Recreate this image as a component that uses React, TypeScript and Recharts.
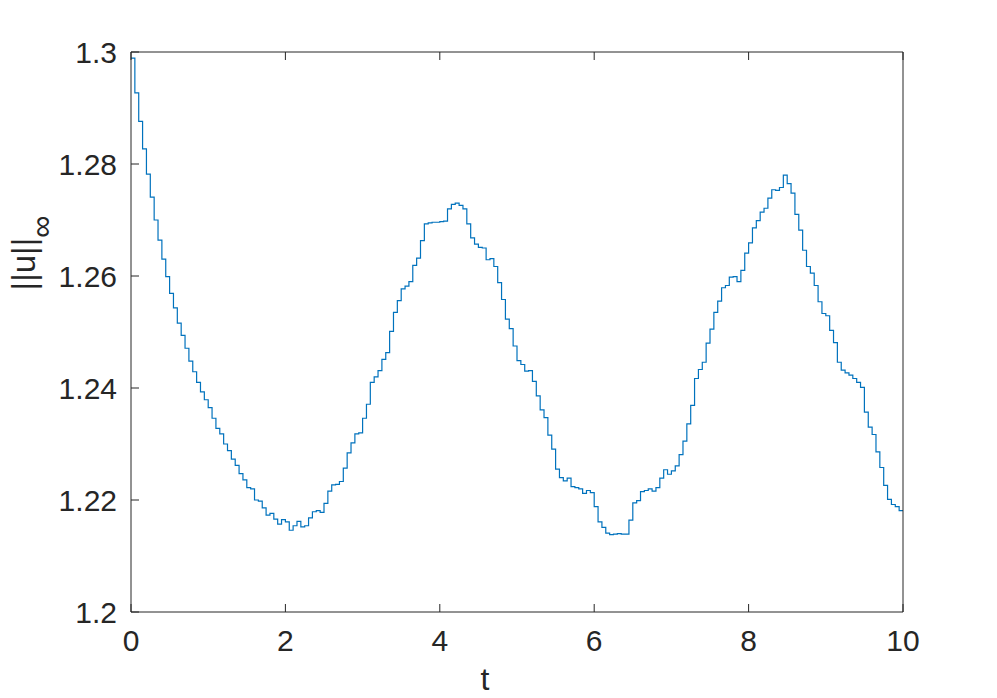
import * as React from 'react';
import { LineChart, Line, XAxis, YAxis, Label } from 'recharts';

const normValues = [
  1.2989, 1.2927, 1.2876, 1.2827, 1.2782, 1.2741, 1.27, 1.2664, 1.263, 1.2599,
  1.2569, 1.2543, 1.2516, 1.2494, 1.2471, 1.2448, 1.2429, 1.241, 1.2393, 1.2379,
  1.2365, 1.2346, 1.2328, 1.2318, 1.23, 1.2288, 1.2273, 1.2262, 1.2247, 1.2236,
  1.2222, 1.222, 1.22, 1.2198, 1.2186, 1.2173, 1.2176, 1.2166, 1.2157, 1.2165,
  1.2161, 1.2146, 1.2154, 1.2162, 1.2152, 1.2154, 1.2168, 1.2179, 1.2181, 1.2178,
  1.2194, 1.2216, 1.2227, 1.2228, 1.2233, 1.2257, 1.2284, 1.2302, 1.2318, 1.232,
  1.2346, 1.2371, 1.241, 1.242, 1.2431, 1.2451, 1.2463, 1.2501, 1.2535, 1.2556,
  1.2577, 1.2582, 1.259, 1.2619, 1.2632, 1.2663, 1.2693, 1.2695, 1.2696, 1.2696,
  1.2697, 1.2698, 1.272, 1.2728, 1.273, 1.2726, 1.272, 1.2693, 1.2668, 1.2657,
  1.2651, 1.265, 1.2629, 1.2631, 1.2617, 1.2588, 1.2558, 1.2523, 1.2506, 1.2475,
  1.2449, 1.2442, 1.243, 1.2431, 1.2412, 1.2386, 1.2361, 1.2347, 1.2316, 1.2291,
  1.2255, 1.224, 1.2234, 1.2239, 1.2224, 1.2222, 1.222, 1.2212, 1.2217, 1.2213,
  1.2188, 1.2161, 1.2151, 1.2141, 1.2138, 1.2139, 1.214, 1.2139, 1.2139, 1.2164,
  1.2195, 1.2199, 1.2215, 1.2217, 1.222, 1.2216, 1.2222, 1.2239, 1.2254, 1.2246,
  1.2252, 1.2261, 1.2281, 1.2305, 1.2336, 1.2369, 1.2417, 1.2433, 1.2446, 1.248,
  1.2505, 1.2535, 1.2555, 1.2579, 1.2583, 1.2598, 1.2599, 1.259, 1.261, 1.2641,
  1.2659, 1.2686, 1.2699, 1.2714, 1.2721, 1.2739, 1.2754, 1.2753, 1.2758, 1.278,
  1.2765, 1.2748, 1.271, 1.2682, 1.2646, 1.2617, 1.2605, 1.2583, 1.2554, 1.2533,
  1.2529, 1.2503, 1.2481, 1.2446, 1.2432, 1.2427, 1.2423, 1.2417, 1.241, 1.2401,
  1.2357, 1.233, 1.2317, 1.2286, 1.2258, 1.2226, 1.2201, 1.2192, 1.2188, 1.2181,
];
const stepSize = 0.05;
const tEnd = 10;

const xTicks = [0, 2, 4, 6, 8, 10];
const yTicks = [1.2, 1.22, 1.24, 1.26, 1.28, 1.3];
const yTickLabels = ['1.2', '1.22', '1.24', '1.26', '1.28', '1.3'];

const data = normValues.map((v, i) => ({ t: +(i * stepSize).toFixed(2), u: v }));
// close the last stair at t = 10
data.push({ t: tEnd, u: normValues[normValues.length - 1] });

const axisColor = '#262626';
const lineColor = '#0072BD';
const font = '"Liberation Sans", Arial, Helvetica, sans-serif';

const App = () => {
  return (
    <div style={{ position: 'absolute', left: 0, top: 0, fontFamily: font, background: '#fff' }}>
      <LineChart
        width={997}
        height={698}
        data={data}
        margin={{ top: 51, right: 93, bottom: 26, left: 0 }}
      >
        <XAxis
          xAxisId="bottom"
          dataKey="t"
          type="number"
          domain={[0, tEnd]}
          ticks={xTicks}
          interval={0}
          height={60}
          tickSize={-8}
          tickMargin={26}
          stroke={axisColor}
          tick={{ fill: axisColor, fontSize: 30 }}
        >
          <Label
            content={() => (
              <text x={485} y={690} textAnchor="middle" fontSize={32} fill={axisColor}>
                t
              </text>
            )}
          />
        </XAxis>
        <XAxis
          xAxisId="top"
          orientation="top"
          dataKey="t"
          type="number"
          domain={[0, tEnd]}
          ticks={xTicks}
          interval={0}
          height={1}
          tickSize={-8}
          tickFormatter={() => ''}
          stroke={axisColor}
        />
        <YAxis
          yAxisId="left"
          type="number"
          domain={[1.2, 1.3]}
          ticks={yTicks}
          interval={0}
          width={131}
          tickSize={-8}
          tickMargin={22}
          stroke={axisColor}
          tick={{ fill: axisColor, fontSize: 30 }}
          tickFormatter={(v: number) => yTickLabels[yTicks.indexOf(v)] ?? String(v)}
        >
          <Label
            content={() => (
              <text
                transform="translate(35, 253) rotate(-90)"
                textAnchor="middle"
                fontSize={33}
                fill={axisColor}
              >
                ||u||
                <tspan fontSize={31} dy={17}>
                  ∞
                </tspan>
              </text>
            )}
          />
        </YAxis>
        <YAxis
          yAxisId="right"
          orientation="right"
          type="number"
          domain={[1.2, 1.3]}
          ticks={yTicks}
          interval={0}
          width={1}
          tickSize={-8}
          tickFormatter={() => ''}
          stroke={axisColor}
        />
        <Line
          xAxisId="bottom"
          yAxisId="left"
          type="stepAfter"
          dataKey="u"
          stroke={lineColor}
          strokeWidth={1.2}
          dot={false}
          isAnimationActive={false}
        />
      </LineChart>
    </div>
  );
};

export default App;
